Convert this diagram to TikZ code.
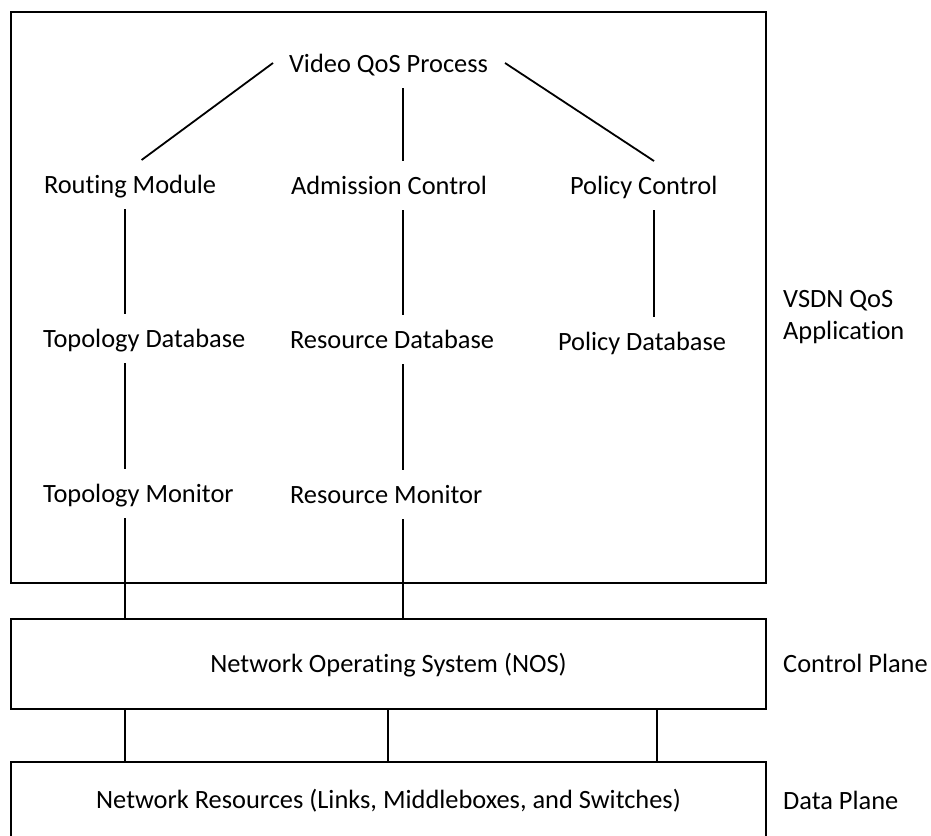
\documentclass[tikz,border=0pt]{standalone}
\usepackage{fontspec}
\setmainfont{Carlito}[Ligatures=NoCommon]
\usetikzlibrary{calc}

\begin{document}
\begin{tikzpicture}[x=1pt,y=-1pt,
  lbl/.style={anchor=base west, inner sep=0pt, outer sep=0pt,
              text height=33pt, text depth=16pt},
  side/.style={anchor=base west, inner sep=0pt, align=left},
  layerbox/.style={draw, rectangle, line width=2.8pt, inner sep=0pt, outer sep=0pt,
                   minimum width=755pt, text height=17pt, text depth=0pt},
  link/.style={line width=1.8pt},
  every node/.append style={font=\fontsize{26.4}{32}\selectfont}]

  % canvas
  \useasboundingbox (0,0) rectangle (931,835);
  \begin{scope}
  \clip (0,0) rectangle (931,835);

  % layer boxes
  \node[layerbox, minimum height=571pt] (app) at (388.5,297.5) {};
  \node[layerbox, minimum height=90pt]  (nos) at (388.5,664) {Network Operating System (NOS)};
  \node[layerbox, minimum height=76pt]  (res) at (388.5,800) {Network Resources (Links, Middleboxes, and Switches)};

  % column guides for the vertical connectors
  \coordinate (colA) at (124.7,0);
  \coordinate (colB) at (402.7,0);
  \coordinate (colC) at (654,0);
  \coordinate (colM) at (388,0);
  \coordinate (colD) at (657.3,0);

  % application modules
  \node[lbl] (vq)   at (289,72)  {Video QoS Process};
  \node[lbl] (rm)   at (44,193)  {Routing Module};
  \node[lbl] (ac)   at (291,194) {Admission Control};
  \node[lbl] (pc)   at (570,194) {Policy Control};
  \node[lbl] (tdb)  at (43,347)  {Topology Database};
  \node[lbl] (rdb)  at (290,348) {Resource Database};
  \node[lbl] (pdb)  at (558,350) {Policy Database};
  \node[lbl] (tmon) at (43,502)  {Topology Monitor};
  \node[lbl] (rmon) at (290,503) {Resource Monitor};

  % layer names
  \node[side] (vsdn) at (783,339) {VSDN QoS\\Application};
  \node[side] (cp)   at (783,672) {Control Plane};
  \node[side] (dp)   at (783,809) {Data Plane};

  % connectors inside the application
  \draw[link] ($(vq.base west)+(-16,-9)$) -- ($(rm.north)+(11.5,0)$);
  \draw[link] (vq.south -| colB) -- (ac.north -| colB);
  \draw[link] ($(vq.base east)+(17,-9)$) -- (pc.north -| colC);
  \draw[link] (rm.south -| colA) -- (tdb.north -| colA);
  \draw[link] (ac.south -| colB) -- (rdb.north -| colB);
  \draw[link] (pc.south -| colC) -- (pdb.north -| colC);
  \draw[link] (tdb.south -| colA) -- (tmon.north -| colA);
  \draw[link] (rdb.south -| colB) -- (rmon.north -| colB);

  % monitors down to the NOS
  \draw[link] (tmon.south -| colA) -- (nos.north -| colA);
  \draw[link] (rmon.south -| colB) -- (nos.north -| colB);

  % NOS down to the network resources
  \draw[link] (nos.south -| colA) -- (res.north -| colA);
  \draw[link] (nos.south -| colM) -- (res.north -| colM);
  \draw[link] (nos.south -| colD) -- (res.north -| colD);
  \end{scope}
\end{tikzpicture}
\end{document}
